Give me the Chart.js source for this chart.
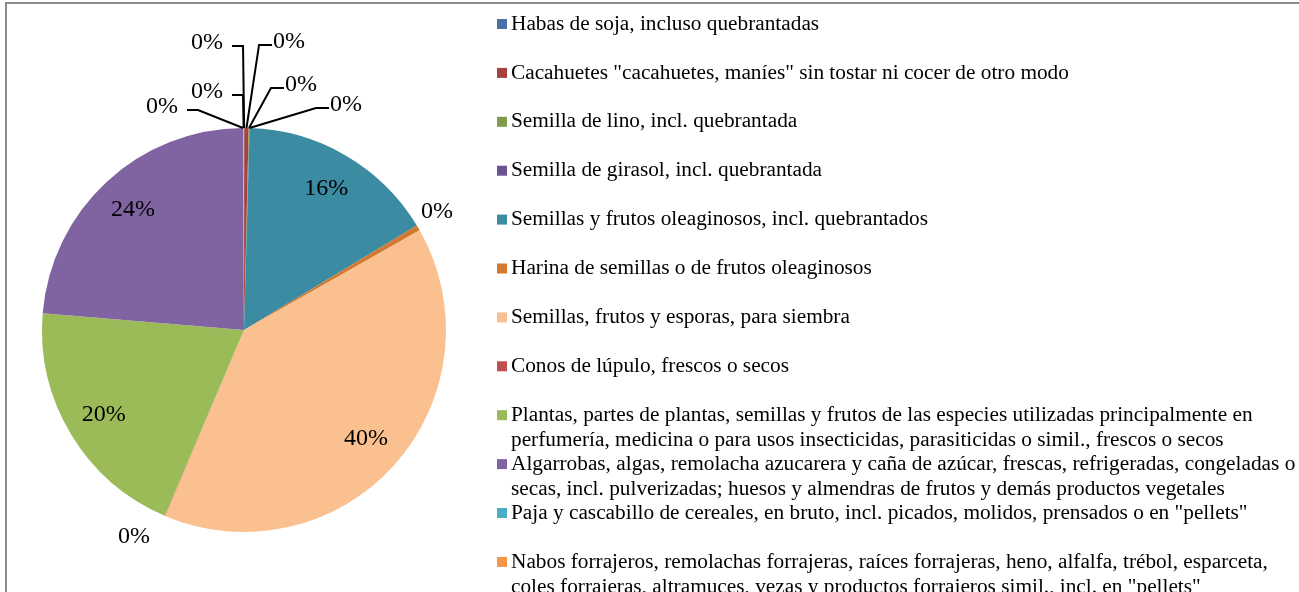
<!DOCTYPE html>
<html>
<head>
<meta charset="utf-8">
<script src="https://cdn.jsdelivr.net/npm/chart.js@4.4.1/dist/chart.umd.min.js"></script>
<style>
  html, body { margin: 0; padding: 0; background: #fff; }
  #wrap { position: relative; width: 1299px; height: 592px; }
</style>
</head>
<body>
<div id="wrap"><canvas id="chart"></canvas></div>
<script>
// product groups, already split into the lines they take in the legend
const categories = [
  ["Habas de soja, incluso quebrantadas"],
  ["Cacahuetes \"cacahuetes, maníes\" sin tostar ni cocer de otro modo"],
  ["Semilla de lino, incl. quebrantada"],
  ["Semilla de girasol, incl. quebrantada"],
  ["Semillas y frutos oleaginosos, incl. quebrantados"],
  ["Harina de semillas o de frutos oleaginosos"],
  ["Semillas, frutos y esporas, para siembra"],
  ["Conos de lúpulo, frescos o secos"],
  ["Plantas, partes de plantas, semillas y frutos de las especies utilizadas principalmente en",
   "perfumería, medicina o para usos insecticidas, parasiticidas o simil., frescos o secos"],
  ["Algarrobas, algas, remolacha azucarera y caña de azúcar, frescas, refrigeradas, congeladas o",
   "secas, incl. pulverizadas; huesos y almendras de frutos y demás productos vegetales"],
  ["Paja y cascabillo de cereales, en bruto, incl. picados, molidos, prensados o en \"pellets\""],
  ["Nabos forrajeros, remolachas forrajeras, raíces forrajeras, heno, alfalfa, trébol, esparceta,",
   "coles forrajeras, altramuces, vezas y productos forrajeros simil., incl. en \"pellets\""]
];

// share of each group (%)
const shares = [0.02, 0.35, 0.05, 0.02, 15.9, 0.45, 39.6, 0.03, 19.9, 23.6, 0.02, 0.06];

const sliceColors = [
  "#4A71A6", "#A5423F", "#7F9C4A", "#6B5290", "#3B8CA3", "#D3782F",
  "#FAC090", "#C0504D", "#9BBB59", "#8064A2", "#4BACC6", "#F79646"
];

// where the labels of the thin slices go, in pie radii from the centre
// (null = label inside the slice on its middle angle)
const labelSpots = [
  { dx: -0.183, dy: -1.421, leader: true },
  { dx:  0.223, dy: -1.426, leader: true },
  { dx:  0.282, dy: -1.213, leader: true },
  { dx:  0.505, dy: -1.114, leader: true },
  null,
  { dx:  0.955, dy: -0.584, leader: false },
  null,
  { dx: -0.545, dy:  1.025, leader: false },
  null,
  null,
  { dx: -0.406, dy: -1.104, leader: true },
  { dx: -0.183, dy: -1.178, leader: true }
];

const SERIF = "'Liberation Serif', 'Times New Roman', serif";

// ─── DATA LABELS WITH LEADER LINES ───────────────────────────
const pieLabels = {
  id: "pieLabels",
  afterDatasetsDraw(chart) {
    const ctx = chart.ctx;
    const arcs = chart.getDatasetMeta(0).data;
    const total = shares.reduce((a, b) => a + b, 0);
    ctx.save();
    ctx.font = "24px " + SERIF;
    ctx.fillStyle = "#000";
    ctx.strokeStyle = "#000";
    ctx.lineWidth = 2;
    ctx.textAlign = "center";
    ctx.textBaseline = "middle";
    arcs.forEach((arc, i) => {
      const { x, y, startAngle, endAngle, outerRadius } = arc.getProps(
        ["x", "y", "startAngle", "endAngle", "outerRadius"], true);
      const mid = (startAngle + endAngle) / 2;
      const text = Math.round(shares[i] / total * 100) + "%";
      const spot = labelSpots[i];
      let lx, ly;
      if (!spot) {
        lx = x + Math.cos(mid) * outerRadius * 0.81;
        ly = y + Math.sin(mid) * outerRadius * 0.81;
      } else {
        lx = x + spot.dx * outerRadius;
        ly = y + spot.dy * outerRadius;
        if (spot.leader) {
          const w = ctx.measureText(text).width;
          const right = lx > x;
          const sx = right ? lx - w / 2 - 1 : lx + w / 2 + 9;
          const ex = right ? sx - 13 : sx + 11;
          ctx.beginPath();
          ctx.moveTo(sx, ly + 3);
          ctx.lineTo(ex, ly + 3);
          ctx.lineTo(x + Math.cos(mid) * outerRadius, y + Math.sin(mid) * outerRadius);
          ctx.stroke();
        }
      }
      ctx.fillText(text, lx, ly);
    });
    ctx.restore();
  }
};

// ─── LEGEND WITH WRAPPED ENTRIES + FRAME ─────────────────────
const sideLegend = {
  id: "sideLegend",
  afterDraw(chart) {
    const ctx = chart.ctx;
    ctx.save();
    ctx.font = "21.3px " + SERIF;
    ctx.textAlign = "left";
    ctx.textBaseline = "middle";
    categories.forEach((lines, i) => {
      const top = 24 + i * 48.9;
      ctx.fillStyle = sliceColors[i];
      ctx.fillRect(497, top - 5, 10, 10);
      ctx.fillStyle = "#000";
      lines.forEach((ln, j) => ctx.fillText(ln, 511, top + j * 25));
    });

    // outer frame (top and left edges only)
    ctx.strokeStyle = "#8c8c8c";
    ctx.lineWidth = 2;
    ctx.beginPath();
    ctx.moveTo(1299, 3);
    ctx.lineTo(6, 3);
    ctx.lineTo(6, 592);
    ctx.stroke();
    ctx.restore();
  }
};

// ─── CHART INIT ──────────────────────────────────────────────
new Chart(document.getElementById("chart"), {
  type: "pie",
  data: {
    labels: categories.map(c => c.join(" ")),
    datasets: [{
      data: shares,
      backgroundColor: sliceColors,
      borderWidth: 0
    }]
  },
  options: {
    responsive: true,
    maintainAspectRatio: false,
    animation: false,
    layout: { padding: { left: 42, right: 853, top: 128, bottom: 60 } },
    plugins: {
      legend: { display: false },
      tooltip: { enabled: false }
    }
  },
  plugins: [pieLabels, sideLegend]
});
</script>
</body>
</html>
